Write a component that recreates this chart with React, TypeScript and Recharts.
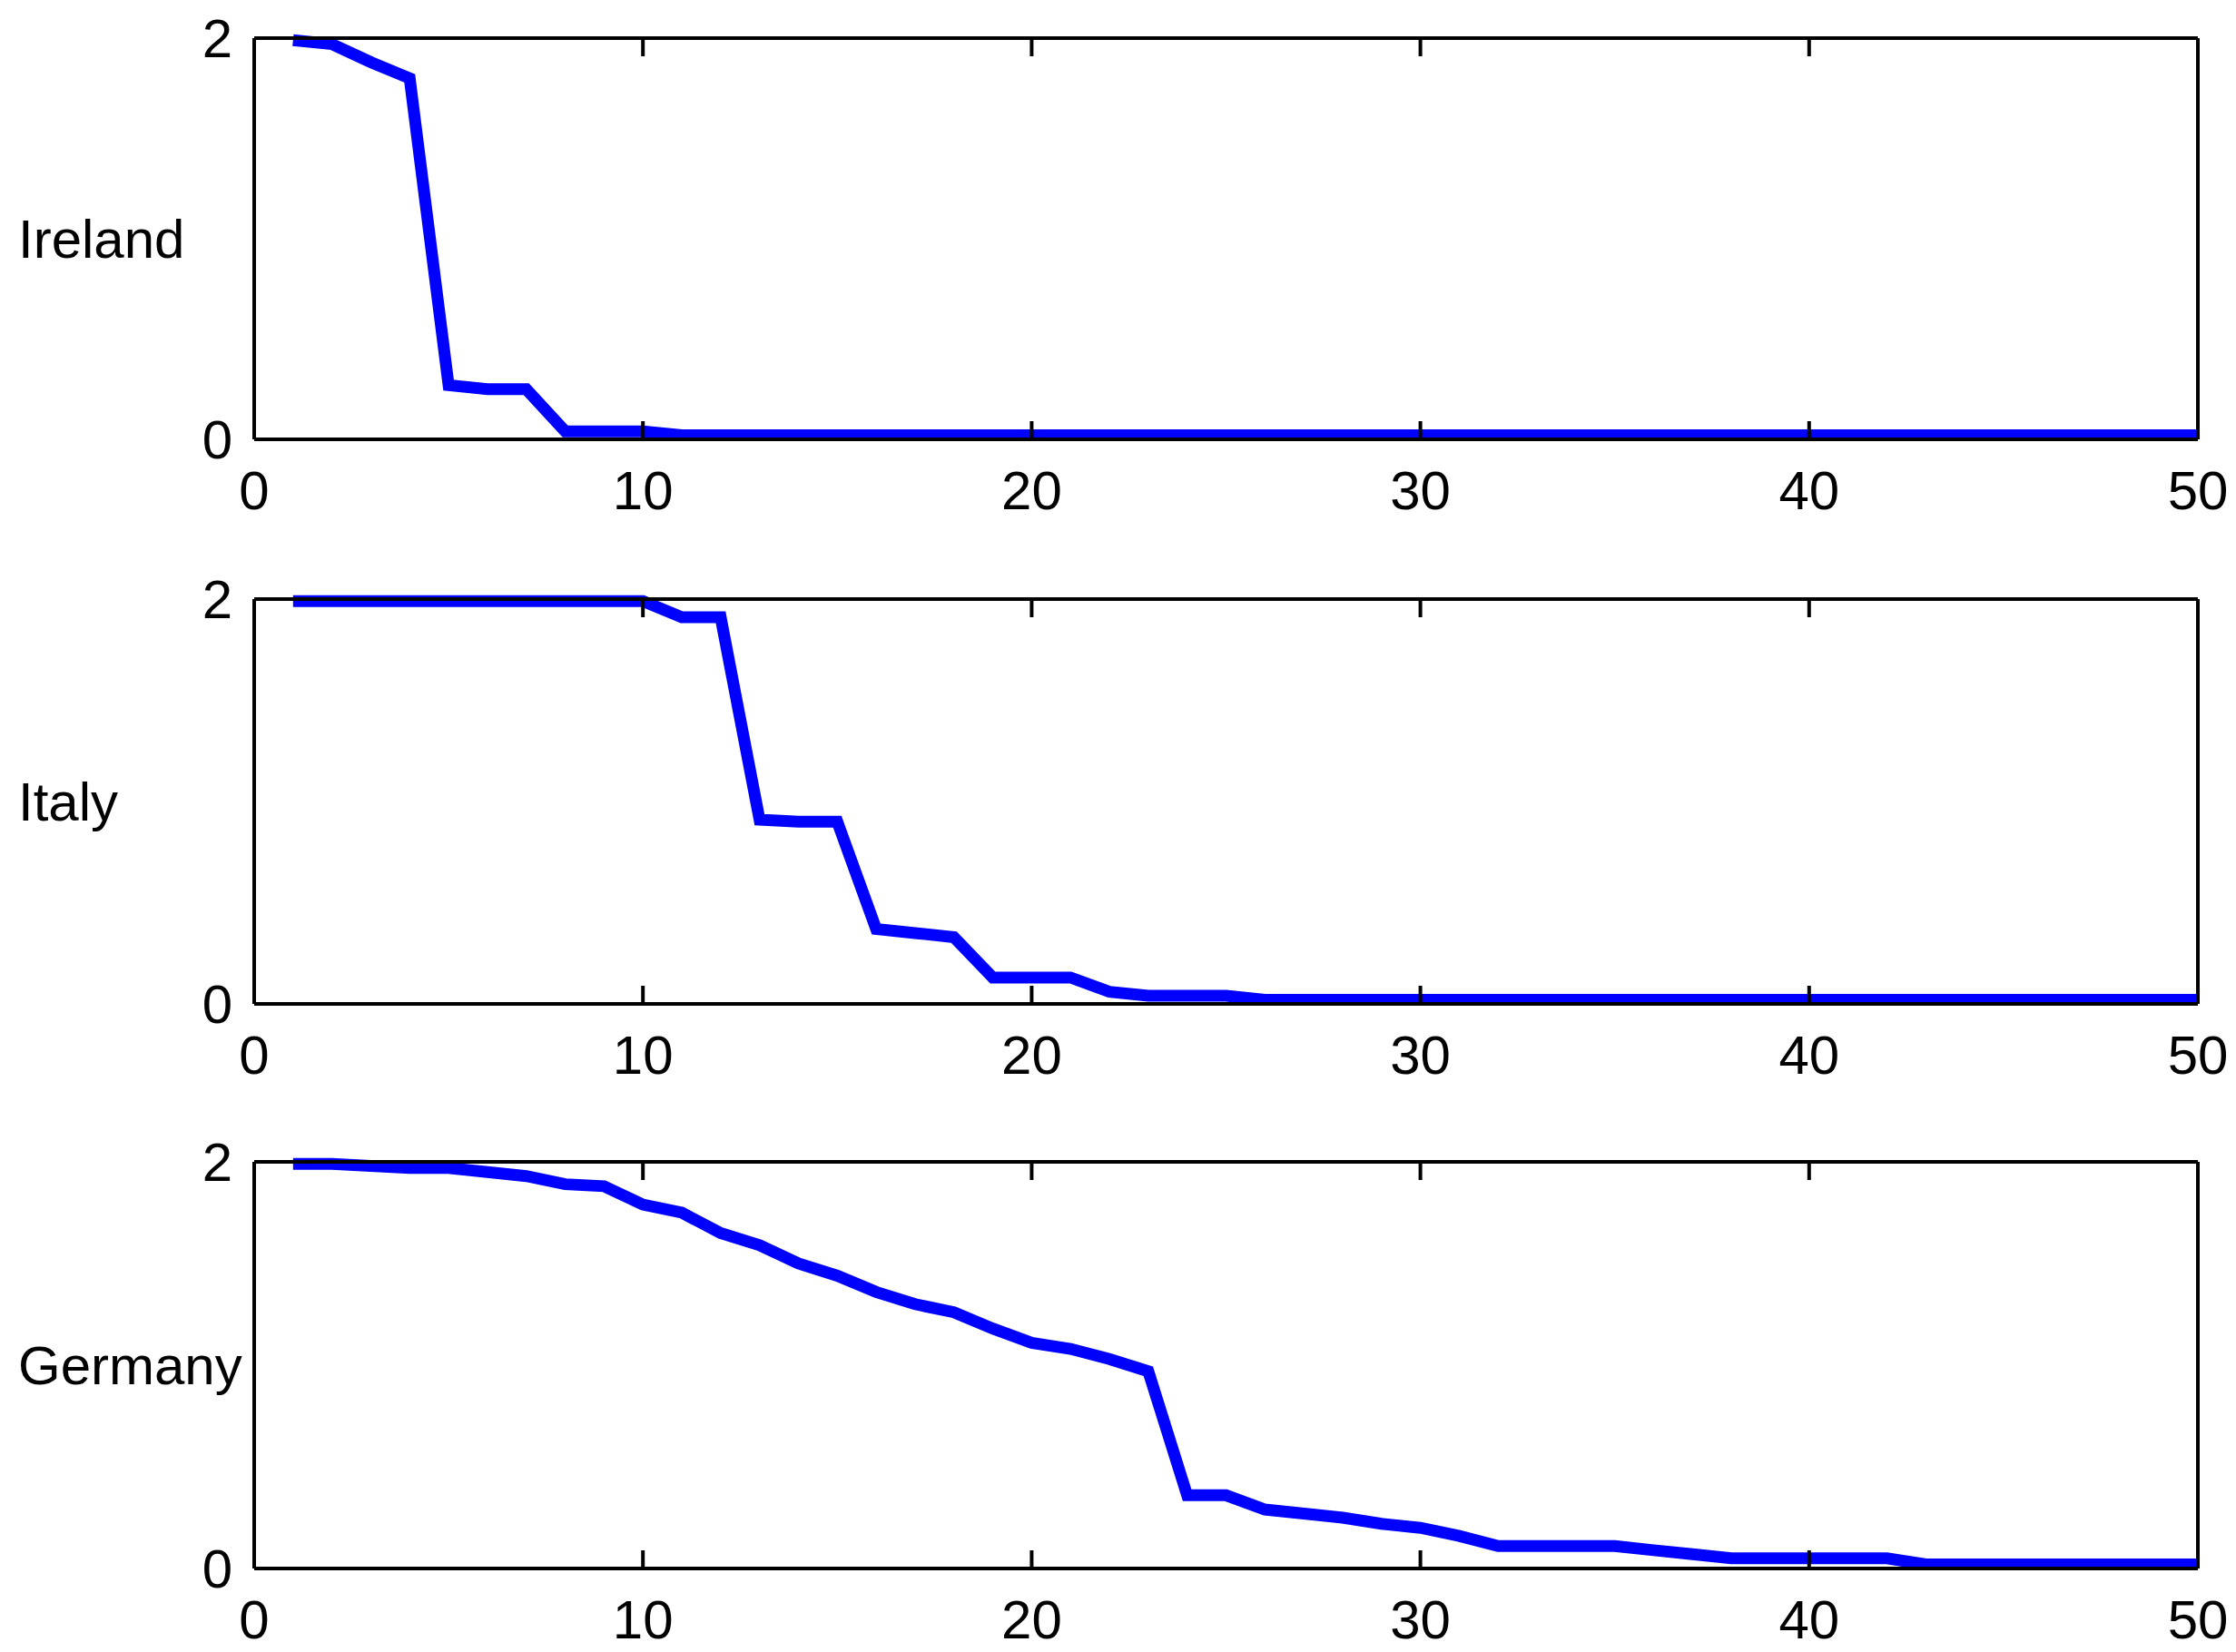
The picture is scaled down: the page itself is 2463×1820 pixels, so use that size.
import React from 'react';
import { LineChart, Line, XAxis, YAxis } from 'recharts';

const steps = [
  1, 2, 3, 4, 5, 6, 7, 8, 9, 10,
  11, 12, 13, 14, 15, 16, 17, 18, 19, 20,
  21, 22, 23, 24, 25, 26, 27, 28, 29, 30,
  31, 32, 33, 34, 35, 36, 37, 38, 39, 40,
  41, 42, 43, 44, 45, 46, 47, 48, 49, 50,
];

const ireland = [
  1.99, 1.97, 1.88, 1.8, 0.27, 0.25, 0.25, 0.04, 0.04, 0.04,
  0.02, 0.02, 0.02, 0.02, 0.02, 0.02, 0.02, 0.02, 0.02, 0.02,
  0.02, 0.02, 0.02, 0.02, 0.02, 0.02, 0.02, 0.02, 0.02, 0.02,
  0.02, 0.02, 0.02, 0.02, 0.02, 0.02, 0.02, 0.02, 0.02, 0.02,
  0.02, 0.02, 0.02, 0.02, 0.02, 0.02, 0.02, 0.02, 0.02, 0.02,
];

const italy = [
  1.99, 1.99, 1.99, 1.99, 1.99, 1.99, 1.99, 1.99, 1.99, 1.99,
  1.91, 1.91, 0.91, 0.9, 0.9, 0.37, 0.35, 0.33, 0.13, 0.13,
  0.13, 0.06, 0.04, 0.04, 0.04, 0.02, 0.02, 0.02, 0.02, 0.02,
  0.02, 0.02, 0.02, 0.02, 0.02, 0.02, 0.02, 0.02, 0.02, 0.02,
  0.02, 0.02, 0.02, 0.02, 0.02, 0.02, 0.02, 0.02, 0.02, 0.02,
];

const germany = [
  1.99, 1.99, 1.98, 1.97, 1.97, 1.95, 1.93, 1.89, 1.88, 1.79,
  1.75, 1.65, 1.59, 1.5, 1.44, 1.36, 1.3, 1.26, 1.18, 1.11,
  1.08, 1.03, 0.97, 0.36, 0.36, 0.29, 0.27, 0.25, 0.22, 0.2,
  0.16, 0.11, 0.11, 0.11, 0.11, 0.09, 0.07, 0.05, 0.05, 0.05,
  0.05, 0.05, 0.02, 0.02, 0.02, 0.02, 0.02, 0.02, 0.02, 0.02,
];

const xTicks = [0, 10, 20, 30, 40, 50];
const yTicks = [0, 2];

const FONT = '"Liberation Sans", Arial, Helvetica, sans-serif';
const W = 2463;
const frame = { stroke: '#000', strokeWidth: 4 };
const tickFont = { fill: '#000', fontSize: 60, fontFamily: FONT };

// top axis: tick marks only, no labels
const NoLabel = () => <g />;

type PanelProps = { name: string; values: number[]; top: number; plotH: number };

const Panel = ({ name, values, top, plotH }: PanelProps) => {
  const data = steps.map((s, i) => ({ x: s, v: values[i] }));
  const axisH = 92;
  const h = 42 + plotH + axisH;
  return (
    <div style={{ position: 'absolute', left: 0, top: top - 42 }}>
      <LineChart width={W} height={h} data={data} margin={{ top: 41, right: 41, bottom: 0, left: 0 }}>
        <XAxis
          xAxisId="b"
          dataKey="x"
          type="number"
          domain={[0, 50]}
          ticks={xTicks}
          interval={0}
          height={axisH}
          tickSize={-20}
          tickMargin={54}
          stroke="#000"
          strokeWidth={4}
          axisLine={frame}
          tickLine={frame}
          tick={tickFont}
        />
        <XAxis
          xAxisId="t"
          orientation="top"
          dataKey="x"
          type="number"
          domain={[0, 50]}
          ticks={xTicks}
          interval={0}
          height={1}
          tickSize={-20}
          stroke="#000"
          strokeWidth={4}
          axisLine={frame}
          tickLine={frame}
          tick={NoLabel}
        />
        <YAxis
          yAxisId="l"
          type="number"
          domain={[0, 2]}
          ticks={yTicks}
          interval={0}
          width={280}
          tickSize={0}
          tickMargin={24}
          tickLine={false}
          stroke="#000"
          strokeWidth={4}
          axisLine={frame}
          tick={tickFont}
          label={{ value: name, position: 'insideLeft', offset: 20, fill: '#000', fontSize: 60, fontFamily: FONT }}
        />
        <YAxis
          yAxisId="r"
          orientation="right"
          type="number"
          domain={[0, 2]}
          ticks={yTicks}
          width={1}
          tickLine={false}
          stroke="#000"
          strokeWidth={4}
          axisLine={frame}
          tick={NoLabel}
        />
        <Line
          xAxisId="b"
          yAxisId="l"
          type="linear"
          dataKey="v"
          stroke="#0000ff"
          strokeWidth={13}
          dot={false}
          activeDot={false}
          isAnimationActive={false}
        />
      </LineChart>
    </div>
  );
};

export default function App() {
  return (
    <div style={{ position: 'absolute', left: 0, top: 0, width: W, height: 1820, background: '#fff', overflow: 'hidden' }}>
      <Panel name="Ireland" values={ireland} top={42} plotH={442} />
      <Panel name="Italy" values={italy} top={660} plotH={446} />
      <Panel name="Germany" values={germany} top={1280} plotH={448} />
    </div>
  );
}
